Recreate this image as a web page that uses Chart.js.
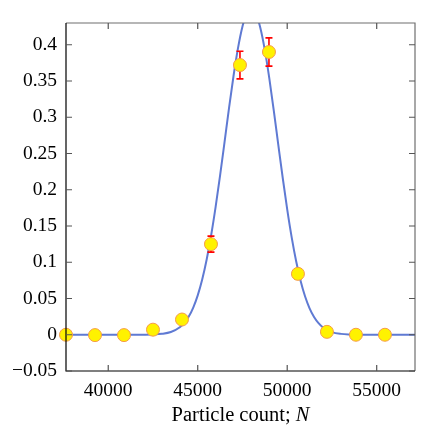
<!DOCTYPE html>
<html>
<head>
<meta charset="utf-8">
<script src="https://cdn.jsdelivr.net/npm/chart.js@4/dist/chart.umd.min.js"></script>
<style>
  html, body { margin: 0; padding: 0; background: #fff; }
</style>
</head>
<body>
<canvas id="chart" width="436" height="436"></canvas>
<script>
// measured points
const pointN = [37640, 39260, 40880, 42500, 44120, 45740, 47360, 48980, 50600, 52220, 53840, 55460];
const pointP = [0, -0.0005, -0.0005, 0.007, 0.021, 0.125, 0.372, 0.390, 0.084, 0.004, 0, 0];
const pointErr = [0.001, 0.001, 0.001, 0.002, 0.003, 0.011, 0.019, 0.0195, 0.007, 0.001, 0.001, 0.001];

// fitted curve
const curveN = [37500, 38500, 39500, 40500, 41500, 42000, 42500, 43000, 43500, 44000, 44250, 44500,
  44750, 45000, 45250, 45500, 45750, 46000, 46250, 46500, 46750, 47000, 47250, 47500, 47750, 48000,
  48250, 48500, 48750, 49000, 49250, 49500, 49750, 50000, 50250, 50500, 50750, 51000, 51250, 51500,
  51750, 52000, 52500, 53000, 53500, 54000, 55000, 56000, 57500];
const curveP = [0, 0, 0, 0, 0, 0.0001, 0.0004, 0.0013, 0.0038, 0.0104, 0.0164, 0.0252,
  0.0375, 0.0543, 0.0762, 0.1038, 0.1373, 0.1764, 0.2199, 0.2661, 0.3128, 0.3569, 0.3953, 0.4252, 0.4439, 0.4500,
  0.4429, 0.4231, 0.3925, 0.3535, 0.3091, 0.2624, 0.2162, 0.1730, 0.1344, 0.1014, 0.0742, 0.0527, 0.0364, 0.0244,
  0.0159, 0.0100, 0.0037, 0.0012, 0.0003, 0, 0, 0, 0];

const xTicks = [40000, 45000, 50000, 55000];
const yTicks = [-0.05, 0, 0.05, 0.1, 0.15, 0.2, 0.25, 0.3, 0.35, 0.4];

const FONT = "Liberation Serif, Times New Roman, serif";
Chart.defaults.font.family = FONT;
Chart.defaults.font.size = 19.5;
Chart.defaults.color = "#000";

// error bars drawn right after the curve, under the markers
const errorBars = {
  id: "errorBars",
  afterDatasetDraw(chart, args) {
    if (args.index !== 0) return;
    const ctx = chart.ctx;
    const x = chart.scales.x, y = chart.scales.y;
    ctx.save();
    ctx.strokeStyle = "#ff0000";
    ctx.lineWidth = 1.6;
    pointN.forEach((n, i) => {
      const px = x.getPixelForValue(n);
      const top = y.getPixelForValue(pointP[i] + pointErr[i]);
      const bot = y.getPixelForValue(pointP[i] - pointErr[i]);
      ctx.beginPath();
      ctx.moveTo(px, top); ctx.lineTo(px, bot);
      ctx.moveTo(px - 3.5, top); ctx.lineTo(px + 3.5, top);
      ctx.moveTo(px - 3.5, bot); ctx.lineTo(px + 3.5, bot);
      ctx.stroke();
    });
    ctx.restore();
  }
};

// box frame, inward ticks and the x label with italic N
const frame = {
  id: "frame",
  afterDraw(chart) {
    const ctx = chart.ctx;
    const a = chart.chartArea;
    const x = chart.scales.x, y = chart.scales.y;
    ctx.save();
    ctx.lineWidth = 1.2;
    ctx.strokeStyle = "#6f6f6f";
    ctx.beginPath();
    ctx.moveTo(a.left, a.top); ctx.lineTo(a.right, a.top); ctx.lineTo(a.right, a.bottom);
    ctx.stroke();
    ctx.strokeStyle = "#000";
    ctx.beginPath();
    ctx.moveTo(a.left, a.top); ctx.lineTo(a.left, a.bottom); ctx.lineTo(a.right, a.bottom);
    ctx.stroke();

    ctx.strokeStyle = "#555";
    ctx.beginPath();
    xTicks.forEach(v => {
      const px = x.getPixelForValue(v);
      ctx.moveTo(px, a.bottom); ctx.lineTo(px, a.bottom - 6);
      ctx.moveTo(px, a.top); ctx.lineTo(px, a.top + 6);
    });
    yTicks.forEach(v => {
      const py = y.getPixelForValue(v);
      ctx.moveTo(a.left, py); ctx.lineTo(a.left + 6, py);
      ctx.moveTo(a.right, py); ctx.lineTo(a.right - 6, py);
    });
    ctx.stroke();

    const t1 = "Particle count; ", t2 = "N";
    ctx.fillStyle = "#000";
    ctx.textBaseline = "alphabetic";
    ctx.font = "20.5px " + FONT;
    const w1 = ctx.measureText(t1).width;
    ctx.font = "italic 20.5px " + FONT;
    const w2 = ctx.measureText(t2).width;
    const sx = (a.left + a.right) / 2 - (w1 + w2) / 2;
    ctx.font = "20.5px " + FONT;
    ctx.fillText(t1, sx, 421);
    ctx.font = "italic 20.5px " + FONT;
    ctx.fillText(t2, sx + w1, 421);
    ctx.restore();
  }
};

new Chart(document.getElementById("chart"), {
  type: "scatter",
  data: {
    datasets: [
      {
        type: "line",
        data: curveN.map((n, i) => ({ x: n, y: curveP[i] })),
        borderColor: "#5f7ad3",
        borderWidth: 2,
        pointRadius: 0,
        fill: false,
        cubicInterpolationMode: "monotone",
        clip: 0,
        order: 2
      },
      {
        data: pointN.map((n, i) => ({ x: n, y: pointP[i] })),
        backgroundColor: "#fff200",
        borderColor: "#f59a4a",
        borderWidth: 1,
        pointRadius: 6.5,
        clip: false,
        order: 1
      }
    ]
  },
  options: {
    responsive: false,
    animation: false,
    layout: { padding: { top: 23, right: 21, left: 0, bottom: 0 } },
    plugins: { legend: { display: false }, tooltip: { enabled: false } },
    scales: {
      x: {
        type: "linear",
        min: 37640,
        max: 57140,
        grid: { display: false, drawTicks: false },
        border: { display: false },
        afterBuildTicks: s => { s.ticks = xTicks.map(v => ({ value: v })); },
        afterFit: s => { s.height = 65; },
        ticks: { padding: 8, maxRotation: 0, callback: v => String(v) }
      },
      y: {
        min: -0.05,
        max: 0.43,
        grid: { display: false, drawTicks: false },
        border: { display: false },
        afterBuildTicks: s => { s.ticks = yTicks.map(v => ({ value: v })); },
        afterFit: s => { s.width = 66; },
        ticks: { padding: 9, callback: v => String(+v.toFixed(2)).replace("-", "\u2212") }
      }
    }
  },
  plugins: [errorBars, frame]
});
</script>
</body>
</html>
